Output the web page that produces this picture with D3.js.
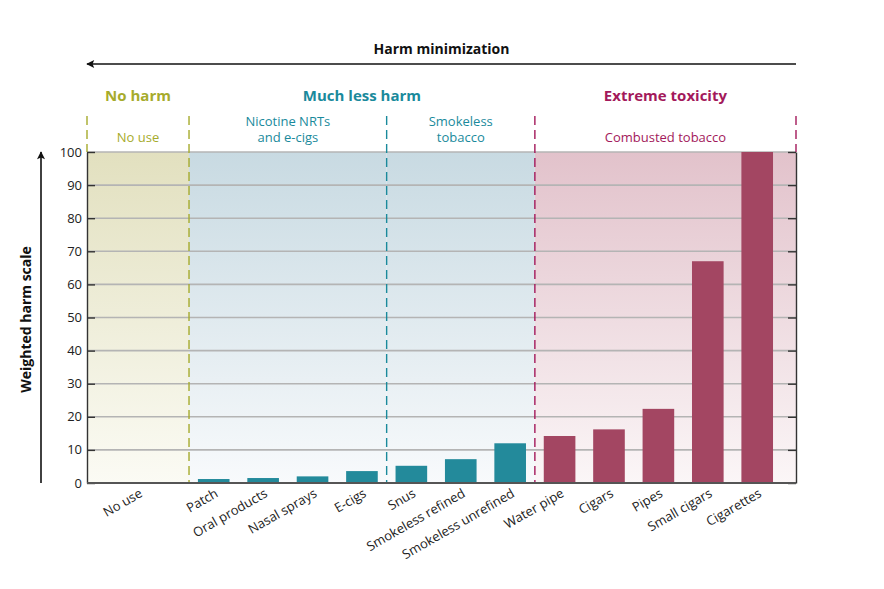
<!DOCTYPE html>
<html>
<head>
<meta charset="utf-8">
<script src="https://cdn.jsdelivr.net/npm/d3@7"></script>
<style>
  body { margin: 0; background: #fff; }
  svg text { font-family: "Open Sans", sans-serif; }
</style>
</head>
<body>
<div id="chart"></div>
<script>
// data
var categories = ['No use', 'Patch', 'Oral products', 'Nasal sprays', 'E-cigs', 'Snus',
  'Smokeless refined', 'Smokeless unrefined', 'Water pipe', 'Cigars', 'Pipes', 'Small cigars', 'Cigarettes']
var harm = [0.3, 1.2, 1.5, 2.0, 3.6, 5.2, 7.2, 12.0, 14.2, 16.2, 22.4, 67, 100]
var groupOf = [0, 1, 1, 1, 1, 2, 2, 2, 3, 3, 3, 3, 3]      // sub group per category
var subGroups = [['No use'], ['Nicotine NRTs', 'and e-cigs'], ['Smokeless', 'tobacco'], ['Combusted tobacco']]
var sectionOf = [0, 1, 1, 2]                               // section per sub group
var sections = ['No harm', 'Much less harm', 'Extreme toxicity']
var yTicks = [0, 10, 20, 30, 40, 50, 60, 70, 80, 90, 100]

var secColor = ['#a6ab2c', '#1a8a9c', '#a3195b']
var barColor = ['#b7b86a', '#238a9b', '#a34662']
var bgTop = ['#e2e0bf', '#c8dae2', '#e2c2cb']
var bgBot = ['#fbfbf4', '#f8fafc', '#fbf6f7']
var sepSection = [0, 0, 1, 2, 2]   // colour of each dashed separator

var W = 884, H = 589
var pLeft = 87, pRight = 796, pTop = 152, pBottom = 483

var svg = d3.select('#chart').append('svg')
  .attr('width', W).attr('height', H)

var x = d3.scaleBand().domain(categories).range([pLeft, pRight])
  .paddingInner(0.36).paddingOuter(0.855).align(0.728)
var y = d3.scaleLinear().domain([0, 100]).range([pBottom, pTop])

// boundaries between sub groups
var bounds = [pLeft]
for (var i = 1; i < categories.length; i++) {
  if (groupOf[i] !== groupOf[i - 1]) {
    bounds.push((x(categories[i - 1]) + x.bandwidth() + x(categories[i])) / 2)
  }
}
bounds.push(pRight)

function secColorOfGroup(g) { return secColor[sectionOf[g]] }

// background gradients per section
var defs = svg.append('defs')
sections.forEach(function(s, k) {
  var g = defs.append('linearGradient').attr('id', 'bg' + k)
    .attr('x1', 0).attr('y1', 0).attr('x2', 0).attr('y2', 1)
  g.append('stop').attr('offset', '0%').attr('stop-color', bgTop[k])
  g.append('stop').attr('offset', '100%').attr('stop-color', bgBot[k])
})

subGroups.forEach(function(sg, g) {
  svg.append('rect')
    .attr('x', bounds[g]).attr('y', pTop)
    .attr('width', bounds[g + 1] - bounds[g]).attr('height', pBottom - pTop)
    .attr('fill', 'url(#bg' + sectionOf[g] + ')')
})

// grid lines
svg.append('g').selectAll('line')
  .data(yTicks.filter(d => d > 0))
  .enter().append('line')
    .attr('x1', pLeft).attr('x2', pRight)
    .attr('y1', d => y(d)).attr('y2', d => y(d))
    .attr('stroke', '#b4b4b4').attr('stroke-width', 1.6)

// dashed separators
var dashTop = 116
svg.append('g').selectAll('line')
  .data(bounds)
  .enter().append('line')
    .attr('x1', d => d).attr('x2', d => d)
    .attr('y1', dashTop)
    .attr('y2', (d, j) => (j === 0 || j === bounds.length - 1) ? pTop : pBottom)
    .attr('stroke', (d, j) => secColor[sepSection[j]])
    .attr('stroke-width', 1.4)
    .attr('stroke-dasharray', '9,5')

// bars
function cx(d, i) {
  if (i === 0) return (bounds[0] + bounds[1]) / 2
  return x(d) + x.bandwidth() / 2
}
svg.append('g').selectAll('rect')
  .data(categories)
  .enter().append('rect')
    .attr('x', (d, i) => i === 0 ? cx(d, i) - x.bandwidth() : x(d))
    .attr('width', (d, i) => i === 0 ? x.bandwidth() * 2 : x.bandwidth())
    .attr('y', (d, i) => y(harm[i]))
    .attr('height', (d, i) => y(0) - y(harm[i]))
    .attr('fill', (d, i) => barColor[sectionOf[groupOf[i]]])

// axes (ticks point inward on both sides)
var yAxis = d3.axisRight(y).tickValues(yTicks).tickSize(8).tickSizeOuter(0).tickFormat('')
svg.append('g').attr('transform', 'translate(' + pLeft + ',0)').call(yAxis)
var yAxisR = d3.axisLeft(y).tickValues(yTicks).tickSize(8).tickSizeOuter(0).tickFormat('')
svg.append('g').attr('transform', 'translate(' + pRight + ',0)').call(yAxisR)
svg.selectAll('.domain, .tick line').attr('stroke', '#333').attr('stroke-width', 1.4)

svg.append('line')
  .attr('x1', pLeft).attr('x2', pRight).attr('y1', pBottom).attr('y2', pBottom)
  .attr('stroke', '#555').attr('stroke-width', 2)

svg.append('g').selectAll('text')
  .data(yTicks)
  .enter().append('text')
    .attr('x', pLeft - 5).attr('y', d => y(d)).attr('dy', '0.35em')
    .attr('text-anchor', 'end')
    .attr('font-size', 13).attr('fill', '#222')
    .text(d => d)

// category labels
svg.append('g').selectAll('text')
  .data(categories)
  .enter().append('text')
    .attr('transform', (d, i) => 'translate(' + (cx(d, i) + 3) + ',' + (pBottom + 9) + ') rotate(-30)')
    .attr('text-anchor', 'end')
    .attr('dy', '0.35em')
    .attr('font-size', 13).attr('fill', '#222')
    .text(d => d)

// section titles
sections.forEach(function(s, k) {
  var gs = sectionOf.map((v, g) => v === k ? g : -1).filter(g => g >= 0)
  var x0 = bounds[gs[0]], x1 = bounds[gs[gs.length - 1] + 1]
  svg.append('text')
    .attr('x', (x0 + x1) / 2).attr('y', 101)
    .attr('text-anchor', 'middle')
    .attr('font-size', 15).attr('font-weight', 'bold')
    .attr('fill', secColor[k])
    .text(s)
})

subGroups.forEach(function(lines, g) {
  var t = svg.append('text')
    .attr('text-anchor', 'middle')
    .attr('font-size', 13)
    .attr('fill', secColorOfGroup(g))
  var yy = lines.length === 1 ? 142 : 126
  lines.forEach(function(l, n) {
    t.append('tspan').attr('x', (bounds[g] + bounds[g + 1]) / 2).attr('y', yy + n * 16).text(l)
  })
})

// arrows
defs.append('marker').attr('id', 'arr')
  .attr('viewBox', '0 0 10 10').attr('refX', 9).attr('refY', 5)
  .attr('markerWidth', 10).attr('markerHeight', 8).attr('markerUnits', 'userSpaceOnUse')
  .attr('orient', 'auto')
  .append('path').attr('d', 'M0,0 L10,5 L0,10 L2,5 Z').attr('fill', '#111')

svg.append('line')
  .attr('x1', pRight).attr('x2', pLeft).attr('y1', 64).attr('y2', 64)
  .attr('stroke', '#111').attr('stroke-width', 1.6)
  .attr('marker-end', 'url(#arr)')
svg.append('text')
  .attr('x', (pLeft + pRight) / 2).attr('y', 54)
  .attr('text-anchor', 'middle')
  .attr('font-size', 14).attr('font-weight', 'bold').attr('fill', '#111')
  .text('Harm minimization')

svg.append('line')
  .attr('x1', 41).attr('x2', 41).attr('y1', pBottom).attr('y2', pTop)
  .attr('stroke', '#111').attr('stroke-width', 1.6)
  .attr('marker-end', 'url(#arr)')
svg.append('text')
  .attr('transform', 'translate(31,' + ((pTop + pBottom) / 2 + 2) + ') rotate(-90)')
  .attr('text-anchor', 'middle')
  .attr('font-size', 14).attr('font-weight', 'bold').attr('fill', '#111')
  .text('Weighted harm scale')
</script>
</body>
</html>
